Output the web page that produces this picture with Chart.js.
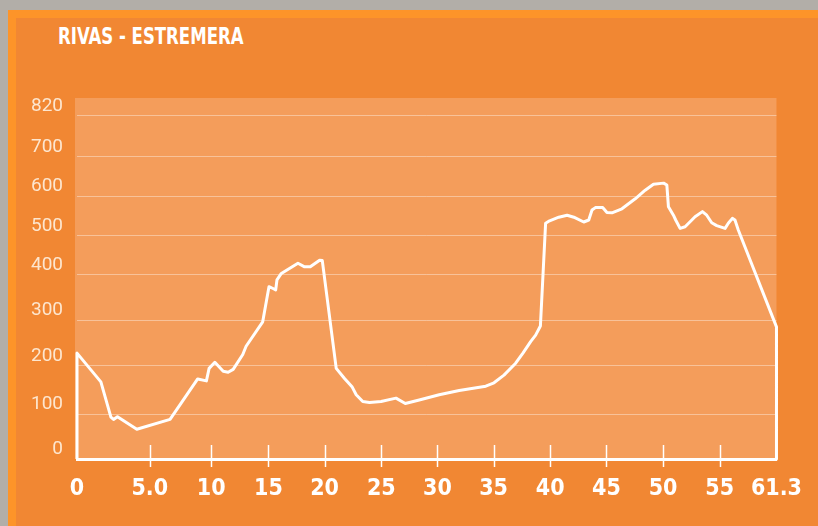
<!DOCTYPE html>
<html>
<head>
<meta charset="utf-8">
<title>Rivas - Estremera</title>
<script src="https://cdn.jsdelivr.net/npm/chart.js@4.4.1/dist/chart.umd.min.js"></script>
<style>
  html, body { margin: 0; padding: 0; }
  body { width: 818px; height: 526px; background: #b2aea8; position: relative; overflow: hidden; }
  #frame { position: absolute; left: 8px; top: 10px; right: 0; bottom: 0; background: #fd9429; }
  #panel { position: absolute; left: 16px; top: 18px; right: 0; bottom: 0; background: #f18733; }
  #title {
    position: absolute; left: 58px; top: 25px; margin: 0; white-space: nowrap;
    font: bold 23px/23px 'DejaVu Sans Condensed', 'DejaVu Sans', sans-serif;
    color: #fff; transform: scaleX(0.8); transform-origin: 0 0;
  }
  #wrap { position: absolute; left: 0; top: 0; width: 818px; height: 526px; }
</style>
</head>
<body>
<div id="frame"></div>
<div id="panel"></div>
<h1 id="title">RIVAS - ESTREMERA</h1>
<div id="wrap"><canvas id="profileCanvas"></canvas></div>
<script>
// distance (km) and elevation (m) read from the profile
const distance = [0, 0, 1.64, 2.33, 2.51, 2.78, 4.11, 6.65, 8.90, 9.61, 9.83, 10.32, 11.05, 11.48, 11.92,
    12.76, 13.05, 14.50, 15.05, 15.41, 15.65, 15.76, 16.15, 17.63, 18.22, 18.73, 19.56, 19.80,
    21.03, 21.76, 22.44, 22.79, 23.37, 23.96, 24.98, 26.31, 27.14, 28.38, 30.16, 31.94, 34.31,
    35.04, 35.92, 36.95, 37.59, 38.27, 38.71, 39.13, 39.59, 39.94, 40.76, 41.50, 42.10, 42.98,
    43.43, 43.72, 44.02, 44.67, 45.05, 45.49, 46.37, 47.54, 48.42, 49.15, 50.04, 50.33, 50.47,
    50.91, 51.11, 51.50, 51.94, 52.82, 53.47, 53.85, 54.29, 54.73, 55.59, 55.95, 56.40, 56.69,
    57.06, 61.3, 61.3];
const elevation = [0, 228, 167, 93, 88, 94, 66, 88, 173, 169, 195, 208, 189, 187, 193,
    225, 243, 296, 374, 370, 367, 389, 404, 430, 421, 421, 438, 437,
    195, 174, 156, 140, 126, 124, 126, 133, 122, 129, 140, 149, 158,
    165, 181, 206, 228, 253, 267, 287, 532, 538, 547, 552, 547, 535,
    540, 565, 571, 571, 559, 558, 568, 593, 615, 630, 633, 628, 573,
    552, 540, 519, 523, 548, 561, 552, 533, 526, 519, 532, 544, 540,
    515, 285, 0];

const xTickValues = [0, 5, 10, 15, 20, 25, 30, 35, 40, 45, 50, 55, 61.3];
const xTickLabels = ['0', '5.0', '10', '15', '20', '25', '30', '35', '40', '45', '50', '55', '61.3'];
const yTickValues = [0, 100, 200, 300, 400, 500, 600, 700, 820];
const yTickLabels = ['0', '100', '200', '300', '400', '500', '600', '700', '820'];

// the drawing does not use evenly spaced ticks, so the scale maps piece by piece
class PiecewiseScale extends Chart.LinearScale {
    decimalFor(value) {
        const b = this.options.breaks, s = this.options.stops;
        const n = b.length - 1;
        let i = 1;
        while (i < n && value > b[i]) i++;
        return s[i - 1] + (value - b[i - 1]) / (b[i] - b[i - 1]) * (s[i] - s[i - 1]);
    }
    getPixelForValue(value) {
        if (value === null || isNaN(value)) return NaN;
        return this.getPixelForDecimal(this.decimalFor(value));
    }
    getValueForPixel(pixel) {
        const b = this.options.breaks, s = this.options.stops;
        const d = this.getDecimalForPixel(pixel);
        const n = s.length - 1;
        let i = 1;
        while (i < n && d > s[i]) i++;
        return b[i - 1] + (d - s[i - 1]) / (s[i] - s[i - 1]) * (b[i] - b[i - 1]);
    }
}
PiecewiseScale.id = 'piecewise';
PiecewiseScale.defaults = Chart.LinearScale.defaults;
Chart.register(PiecewiseScale);

const profileDecor = {
    id: 'profileDecor',
    beforeDraw(chart) {
        const { ctx, chartArea: a } = chart;
        ctx.save();
        ctx.fillStyle = '#f49d5b';
        ctx.fillRect(a.left - 2, a.top, a.right - a.left + 2, a.bottom - a.top);
        ctx.restore();
    },
    afterDraw(chart) {
        const { ctx, chartArea: a } = chart;
        const xs = chart.scales.x;
        ctx.save();
        ctx.strokeStyle = '#ffffff';
        ctx.lineWidth = 1.5;
        for (let i = 1; i < xs.ticks.length - 1; i++) {
            const px = Math.round(xs.getPixelForTick(i)) + 0.5;
            ctx.beginPath();
            ctx.moveTo(px, a.bottom - 14);
            ctx.lineTo(px, a.bottom + 8);
            ctx.stroke();
        }
        ctx.restore();
    }
};

const ctx = document.getElementById('profileCanvas').getContext('2d');
new Chart(ctx, {
    type: 'line',
    data: {
        datasets: [{
            data: distance.map((d, i) => ({ x: d, y: elevation[i] })),
            borderColor: '#ffffff',
            borderWidth: 3,
            borderJoinStyle: 'round',
            pointRadius: 0,
            fill: false,
            tension: 0,
            clip: false
        }]
    },
    options: {
        responsive: true,
        maintainAspectRatio: false,
        animation: false,
        layout: { padding: { left: 0, top: 98, right: 40, bottom: 0 } },
        plugins: { legend: { display: false }, tooltip: { enabled: false } },
        scales: {
            x: {
                type: 'piecewise',
                min: 0,
                max: 61.3,
                breaks: xTickValues,
                stops: [0, 0.10405, 0.19185, 0.27366, 0.35390, 0.43501, 0.51525, 0.59550,
                    0.67660, 0.75684, 0.83794, 0.91890, 1],
                afterBuildTicks: scale => { scale.ticks = xTickValues.map(v => ({ value: v })); },
                afterFit: scale => { scale.height = 67; },
                grid: { display: false, drawTicks: false },
                border: { display: true, color: '#ffffff', width: 3 },
                ticks: {
                    autoSkip: false,
                    maxRotation: 0,
                    padding: 16,
                    color: '#ffffff',
                    font: { family: "'DejaVu Sans Condensed', 'DejaVu Sans', sans-serif", size: 23, weight: 'bold' },
                    callback: (value, index) => xTickLabels[index]
                }
            },
            y: {
                type: 'piecewise',
                min: 0,
                max: 873,
                breaks: [...yTickValues, 873],
                stops: [0, 0.12465, 0.25762, 0.38504, 0.50970, 0.61773, 0.72853, 0.83657, 0.95014, 1],
                afterBuildTicks: scale => { scale.ticks = yTickValues.map(v => ({ value: v })); },
                afterFit: scale => { scale.width = 77; },
                grid: { color: 'rgba(255,255,255,0.38)', lineWidth: 1, drawTicks: false },
                border: { display: false },
                ticks: {
                    autoSkip: false,
                    padding: 14,
                    labelOffset: -10,
                    color: '#fde6cf',
                    font: { family: "Roboto, sans-serif", size: 19 },
                    callback: (value, index) => yTickLabels[index]
                }
            }
        }
    },
    plugins: [profileDecor]
});
</script>
</body>
</html>
